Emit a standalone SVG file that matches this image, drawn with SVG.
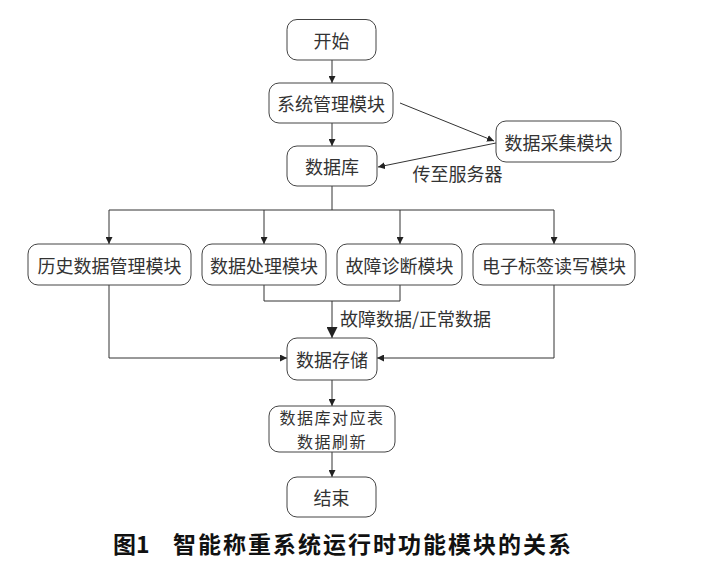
<svg xmlns="http://www.w3.org/2000/svg" width="706" height="563" viewBox="0 0 706 563">
<defs>
<marker id="a" viewBox="0 0 10 10" refX="10" refY="5" markerWidth="7" markerHeight="7" markerUnits="userSpaceOnUse" orient="auto"><path d="M0,0 L10,5 L0,10 Z" fill="#222"/></marker>
<marker id="b" viewBox="0 0 10 10" refX="10" refY="5" markerWidth="11" markerHeight="11" markerUnits="userSpaceOnUse" orient="auto"><path d="M0,0 L10,5 L0,10 Z" fill="#222"/></marker>
</defs>
<style>
.n rect{fill:#fff;stroke:#444;stroke-width:1}
.n text,.l{font-family:"Noto Sans CJK SC","Noto Sans",sans-serif;font-size:18px;fill:#333;text-anchor:middle;dominant-baseline:central}
.n text.s{font-size:16px}
.c path{fill:none;stroke:#333;stroke-width:1}
.cap{font-family:"Noto Sans CJK SC","Noto Sans",sans-serif;font-size:23px;font-weight:bold;fill:#111;dominant-baseline:central}
</style>
<rect width="706" height="563" fill="#fff"/>
<g class="c">
<path d="M332,60 V83" marker-end="url(#a)"/>
<path d="M332,123 V146" marker-end="url(#a)"/>
<path d="M400,103 L494,141" marker-end="url(#a)"/>
<path d="M496,143 L378,167" marker-end="url(#a)"/>
<path d="M332,186 V210 H109"/>
<path d="M109,210 V244" marker-end="url(#a)"/>
<path d="M264,210 V244" marker-end="url(#a)"/>
<path d="M332,210 H554"/>
<path d="M400,210 V244" marker-end="url(#a)"/>
<path d="M554,210 V244" marker-end="url(#a)"/>
<path d="M264,285 V301 H400 V285"/>
<path d="M332,301 V338" marker-end="url(#b)"/>
<path d="M109,285 V358 H287" marker-end="url(#a)"/>
<path d="M554,285 V358 H377" marker-end="url(#a)"/>
<path d="M332,380 V406" marker-end="url(#a)"/>
<path d="M332,452 V477" marker-end="url(#a)"/>
</g>
<g id="start" class="n"><rect x="287" y="19.5" width="89" height="40.5" rx="10"/><text x="331.5" y="40">开始</text></g>
<g id="sysmgr" class="n"><rect x="269" y="83" width="124" height="40" rx="10"/><text x="331" y="103">系统管理模块</text></g>
<g id="db" class="n"><rect x="287" y="146" width="90" height="40" rx="10"/><text x="332" y="166">数据库</text></g>
<g id="collect" class="n"><rect x="496" y="121" width="125" height="41" rx="10"/><text x="558.5" y="141.5">数据采集模块</text></g>
<g id="history" class="n"><rect x="28" y="244" width="163" height="41" rx="10"/><text x="109.5" y="264.5">历史数据管理模块</text></g>
<g id="process" class="n"><rect x="202" y="244" width="124" height="41" rx="10"/><text x="264" y="264.5">数据处理模块</text></g>
<g id="diag" class="n"><rect x="337" y="244" width="125" height="41" rx="10"/><text x="399.5" y="264.5">故障诊断模块</text></g>
<g id="tag" class="n"><rect x="473" y="244" width="162" height="41" rx="10"/><text x="554" y="264.5">电子标签读写模块</text></g>
<g id="store" class="n"><rect x="287" y="338" width="90" height="42" rx="10"/><text x="332" y="359">数据存储</text></g>
<g id="refresh" class="n"><rect x="269" y="406" width="126" height="46" rx="10"/><text class="s" x="332" y="417" letter-spacing="1.5">数据库对应表</text><text class="s" x="332" y="441" letter-spacing="1.5">数据刷新</text></g>
<g id="end" class="n"><rect x="287" y="477" width="89" height="40" rx="10"/><text x="331.5" y="497">结束</text></g>
<text class="l" x="457.5" y="172.5">传至服务器</text>
<text class="l" x="415.5" y="318">故障数据/正常数据</text>
<text class="cap" x="113" y="543">图1</text>
<text class="cap" x="173" y="543" letter-spacing="2">智能称重系统运行时功能模块的关系</text>
</svg>
